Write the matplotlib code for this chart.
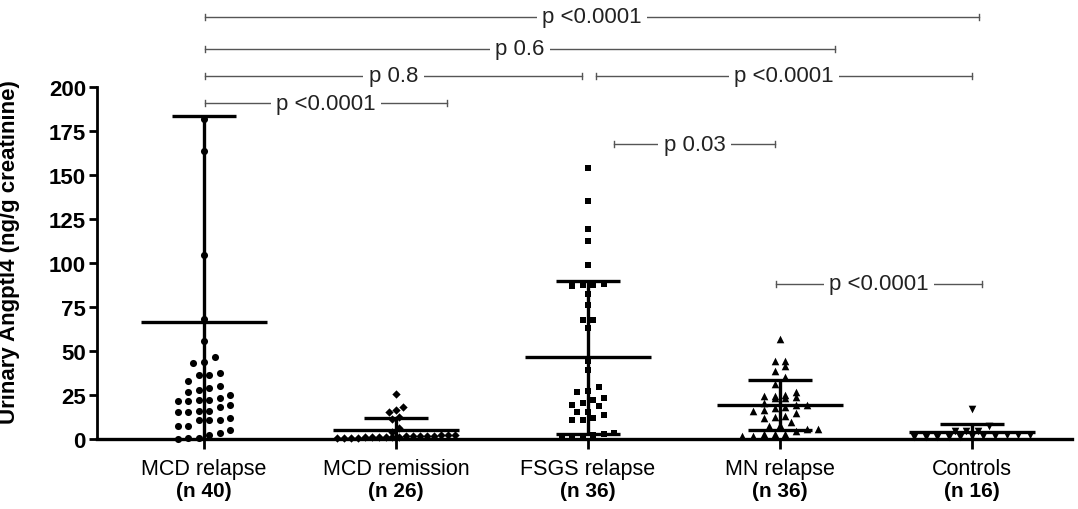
import numpy as np
import matplotlib
matplotlib.use("Agg")
import matplotlib.pyplot as plt

plt.rcParams['font.family'] = ['Liberation Sans', 'DejaVu Sans']

# Groups and labels
groups = ["MCD relapse", "MCD remission", "FSGS relapse", "MN relapse", "Controls"]
counts = ["(n 40)", "(n 26)", "(n 36)", "(n 36)", "(n 16)"]

# Individual values (ng/g creatinine)
mcd_relapse = [181.8, 163.8, 104.7, 68.2, 55.9, 46.4, 43.2, 43.6, 36.6, 36.6,
               37.5, 30.3, 27.8, 29.0, 26.5, 23.3, 22.2, 21.4, 22.3, 21.4,
               25.0, 18.4, 15.7, 15.2, 15.5, 15.7, 10.8, 7.2, 7.6, 10.8,
               10.8, 3.4, 2.5, 0.3, 0.2, 0.4, 33.0, 19.5, 12.0, 5.0]
mcd_remission = [25.6, 18.4, 16.7, 15.2, 12.3, 11.4, 6.0, 4.2,
                 0.5, 1.2, 0.8, 1.6, 2.1, 0.9, 1.4, 1.8, 0.6, 1.1,
                 2.4, 1.3, 0.7, 1.9, 1.0, 1.5, 2.2, 1.7]
fsgs_relapse = [153.8, 135.0, 119.3, 112.7, 99.0, 87.5, 86.8, 87.5, 88.0, 82.4,
                76.3, 67.8, 67.8, 62.9, 44.1, 39.2, 27.1, 29.4, 26.5, 23.1,
                20.5, 22.3, 18.9, 19.3, 15.5, 13.8, 11.0, 11.0, 11.7, 15.2,
                3.5, 2.8, 2.2, 1.6, 1.0, 0.5]
mn_relapse = [56.8, 44.5, 44.5, 41.3, 38.4, 35.0, 31.3, 26.5, 24.6, 23.7,
              23.1, 23.3, 24.6, 25.0, 19.3, 19.3, 16.5, 16.1, 17.4, 14.6,
              12.3, 12.9, 11.9, 9.5, 7.6, 8.0, 5.7, 5.7, 2.8, 1.9,
              2.8, 1.9, 2.8, 20.5, 18.0, 4.8]
controls = [17.0, 7.6, 4.7, 4.4, 4.4,
            1.2, 2.0, 1.6, 2.3, 0.9, 1.8, 1.4, 2.1, 1.1, 1.7, 1.3]

# Mean and SD per group
means = [66.5, 5.1, 46.4, 19.3, 3.8]
sds = [116.8, 6.9, 43.6, 14.4, 4.7]

# Comparisons: (left x, right x, height, label)
comparisons = [
    (0.005, 4.036, 239.8, "p <0.0001"),
    (0.005, 3.286, 221.6, "p 0.6"),
    (0.005, 1.969, 206.3, "p 0.8"),
    (2.042, 4.000, 206.3, "p <0.0001"),
    (0.005, 1.266, 190.9, "p <0.0001"),
    (2.135, 2.974, 167.6, "p 0.03"),
    (2.979, 4.052, 88.1, "p <0.0001"),
]

data = [mcd_relapse, mcd_remission, fsgs_relapse, mn_relapse, controls]
markers = ['o', 'D', 's', '^', 'v']
msizes = [26, 18, 24, 30, 30]
steps = [0.055, 0.036, 0.055, 0.056, 0.06]
rowh = [5.0, 3.5, 4.0, 4.0, 3.5]


def swarm(values, row_h, step):
    v = np.sort(np.asarray(values, dtype=float))
    xs = np.zeros_like(v)
    i = 0
    while i < len(v):
        j = i
        while j < len(v) and v[j] - v[i] < row_h:
            j += 1
        k = j - i
        xs[i:j] = (np.arange(k) - (k - 1) / 2) * step
        i = j
    return v, xs


fig = plt.figure(figsize=(10.78, 5.10), dpi=100)
ax = fig.add_axes([97 / 1078, 70 / 510, 975 / 1078, 352 / 510])

for i, vals in enumerate(data):
    v, dx = swarm(vals, rowh[i], steps[i])
    ax.scatter(i + dx, v, marker=markers[i], s=msizes[i], color='black',
               linewidths=0, clip_on=False, zorder=3)

pos = np.arange(len(groups))
ax.errorbar(pos, means, yerr=sds, fmt='none', ecolor='black', elinewidth=2.4,
            capsize=23, capthick=2.4, zorder=4)
ax.hlines(means, pos - 0.33, pos + 0.33, colors='black', lw=2.4, zorder=4)

ax.set_xlim(-0.557, 4.521)
ax.set_ylim(0, 200)
ax.spines['top'].set_visible(False)
ax.spines['right'].set_visible(False)
ax.spines['left'].set_linewidth(2)
ax.spines['bottom'].set_linewidth(2.4)

ax.set_yticks(np.arange(0, 201, 25))
ax.tick_params(axis='y', direction='out', length=6, width=2, labelsize=16, pad=2)
for lab in ax.get_yticklabels():
    lab.set_fontweight('bold')
ax.set_xticks(pos)
ax.set_xticklabels([])
ax.tick_params(axis='x', direction='out', length=7, width=2)

for i in range(len(groups)):
    ax.text(i, -0.099, groups[i], transform=ax.get_xaxis_transform(),
            ha='center', va='baseline', fontsize=15.5)
    ax.text(i, -0.163, counts[i], transform=ax.get_xaxis_transform(),
            ha='center', va='baseline', fontsize=15, fontweight='bold')

fig.text(10 / 1078, 1 - 252 / 510, "Urinary Angptl4 (ng/g creatinine)",
         rotation=90, ha='center', va='center', fontsize=16, fontweight='bold')

for x0, x1, y, lab in comparisons:
    ax.plot([x0, x1], [y, y], color='#555555', lw=1, clip_on=False, zorder=2)
    ax.plot([x0, x0], [y - 1.7, y + 1.7], color='#555555', lw=1, clip_on=False)
    ax.plot([x1, x1], [y - 1.7, y + 1.7], color='#555555', lw=1, clip_on=False)
    ax.text((x0 + x1) / 2, y, lab, ha='center', va='center', fontsize=16,
            color='#222222', clip_on=False, zorder=5,
            bbox=dict(facecolor='white', edgecolor='none', pad=4))

fig.savefig("out.png", dpi=100)
